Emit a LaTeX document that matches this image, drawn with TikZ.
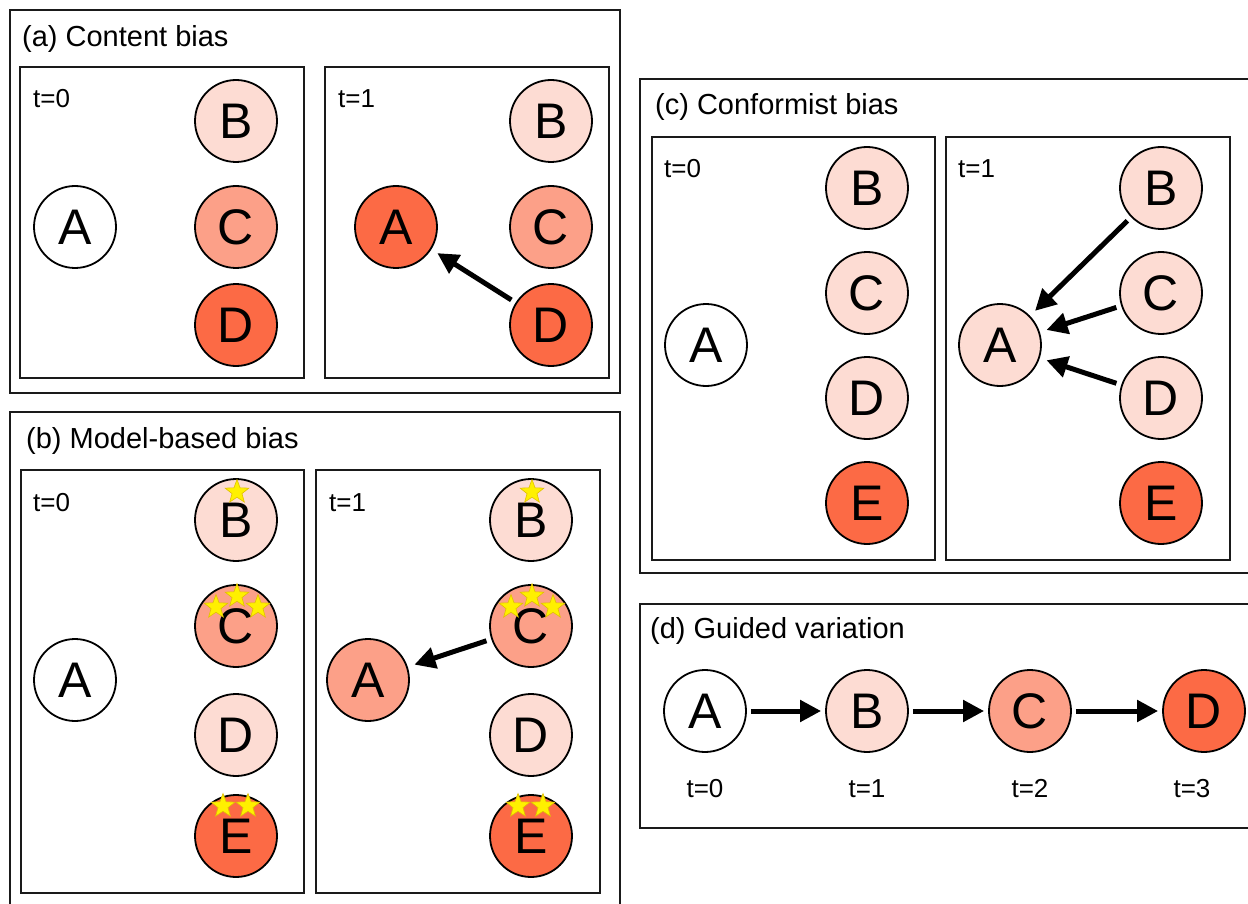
\documentclass[tikz,border=0pt]{standalone}
\usepackage{fontspec}
\setmainfont{Liberation Sans}
\usetikzlibrary{arrows.meta,shapes.geometric}
\definecolor{cLight}{HTML}{FDDCD3}
\definecolor{cMed}{HTML}{FCA088}
\definecolor{cDark}{HTML}{FC6A45}
\definecolor{cLine}{HTML}{1A1A1A}
\definecolor{cStar}{HTML}{FFF000}
\definecolor{cStarEdge}{HTML}{E0C000}
\tikzset{
  outerbox/.style={draw=cLine,line width=2.4pt},
  innerbox/.style={draw=cLine,line width=1.4pt},
  circ/.style={circle,draw=black,line width=1.8pt,minimum size=82pt,inner sep=0pt,font=\fontsize{50}{50}\selectfont},
  title/.style={anchor=base west,inner sep=0pt,font=\fontsize{29}{29}\selectfont},
  tlab/.style={anchor=base west,inner sep=0pt,font=\fontsize{26}{26}\selectfont},
  tlabc/.style={anchor=base,inner sep=0pt,font=\fontsize{26}{26}\selectfont},
  arr/.style={line width=5pt,-{Triangle[length=21pt,width=21pt]},shorten >=7pt,shorten <=5pt},
  starnode/.style={star,star points=5,star point ratio=2.4,minimum size=25pt,inner sep=0pt,fill=cStar,draw=cStarEdge,line width=0.6pt}
}
\begin{document}
\begin{tikzpicture}[x=1pt,y=-1pt]
\useasboundingbox (0,0) rectangle (1248,904);
% ---------- (a) ----------
\draw[outerbox] (10,10) rectangle (620,393);
\node[title] (ta) at (22,47) {(a) Content bias};
\draw[innerbox] (20,67) rectangle (304,378);
\draw[innerbox] (325,67) rectangle (609,378);
\node[tlab] (ta0) at (33,108) {t=0};
\node[tlab] (ta1) at (338,108) {t=1};
\node[circ,fill=white] (aA0) at (75,227) {A};
\node[circ,fill=cLight] (aB0) at (236,121) {B};
\node[circ,fill=cMed] (aC0) at (236,227) {C};
\node[circ,fill=cDark] (aD0) at (236,325) {D};
\node[circ,fill=cDark] (aA1) at (396,227) {A};
\node[circ,fill=cLight] (aB1) at (551,121) {B};
\node[circ,fill=cMed] (aC1) at (551,227) {C};
\node[circ,fill=cDark] (aD1) at (551,325) {D};
\draw[arr] (aD1) -- (aA1);
% ---------- (b) ----------
\draw[outerbox] (10,412) rectangle (620,910);
\node[title] (tb) at (26,448) {(b) Model-based bias};
\draw[innerbox] (21,470) rectangle (304,893);
\draw[innerbox] (316,470) rectangle (600,893);
\node[tlab] (tb0) at (33,511) {t=0};
\node[tlab] (tb1) at (329,511) {t=1};
\node[circ,fill=white] (bA0) at (75,680) {A};
\node[circ,fill=cLight] (bB0) at (236,520) {B};
\node[circ,fill=cMed] (bC0) at (236,626) {C};
\node[circ,fill=cLight] (bD0) at (236,735) {D};
\node[circ,fill=cDark] (bE0) at (236,836) {E};
\node[circ,fill=cMed] (bA1) at (368,680) {A};
\node[circ,fill=cLight] (bB1) at (531,520) {B};
\node[circ,fill=cMed] (bC1) at (531,626) {C};
\node[circ,fill=cLight] (bD1) at (531,735) {D};
\node[circ,fill=cDark] (bE1) at (531,836) {E};
\draw[arr] (bC1) -- (bA1);
% stars
\node[starnode] (s1) at (237,492) {};
\node[starnode] (s2) at (216,607) {};
\node[starnode] (s3) at (237,596) {};
\node[starnode] (s4) at (258,607) {};
\node[starnode] (s5) at (223,806) {};
\node[starnode] (s6) at (248,806) {};
\node[starnode] (s7) at (532,492) {};
\node[starnode] (s8) at (511,607) {};
\node[starnode] (s9) at (532,596) {};
\node[starnode] (s10) at (553,607) {};
\node[starnode] (s11) at (518,806) {};
\node[starnode] (s12) at (543,806) {};
% ---------- (c) ----------
\draw[outerbox] (640,79) rectangle (1260,573);
\node[title] (tc) at (655,115) {(c) Conformist bias};
\draw[innerbox] (652,137) rectangle (935,560);
\draw[innerbox] (946,137) rectangle (1230,560);
\node[tlab] (tc0) at (664,178) {t=0};
\node[tlab] (tc1) at (958,178) {t=1};
\node[circ,fill=white] (cA0) at (706,345) {A};
\node[circ,fill=cLight] (cB0) at (867,188) {B};
\node[circ,fill=cLight] (cC0) at (867,293) {C};
\node[circ,fill=cLight] (cD0) at (867,398) {D};
\node[circ,fill=cDark] (cE0) at (867,503) {E};
\node[circ,fill=cLight] (cA1) at (1000,345) {A};
\node[circ,fill=cLight] (cB1) at (1161,188) {B};
\node[circ,fill=cLight] (cC1) at (1161,293) {C};
\node[circ,fill=cLight] (cD1) at (1161,398) {D};
\node[circ,fill=cDark] (cE1) at (1161,503) {E};
\draw[arr] (cB1) -- (cA1);
\draw[arr] (cC1) -- (cA1);
\draw[arr] (cD1) -- (cA1);
% ---------- (d) ----------
\draw[outerbox] (640,604) rectangle (1260,828);
\node[title] (td) at (650,638) {(d) Guided variation};
\node[circ,fill=white] (dA) at (705,711) {A};
\node[circ,fill=cLight] (dB) at (867,711) {B};
\node[circ,fill=cMed] (dC) at (1030,711) {C};
\node[circ,fill=cDark] (dD) at (1204,711) {D};
\draw[arr,shorten <=4pt,shorten >=4pt] (dA) -- (dB);
\draw[arr,shorten <=4pt,shorten >=4pt] (dB) -- (dC);
\draw[arr,shorten <=4pt,shorten >=4pt] (dC) -- (dD);
\node[tlabc] (d0) at (705,797) {t=0};
\node[tlabc] (d1) at (867,797) {t=1};
\node[tlabc] (d2) at (1030,797) {t=2};
\node[tlabc] (d3) at (1192,797) {t=3};
\end{tikzpicture}
\end{document}
